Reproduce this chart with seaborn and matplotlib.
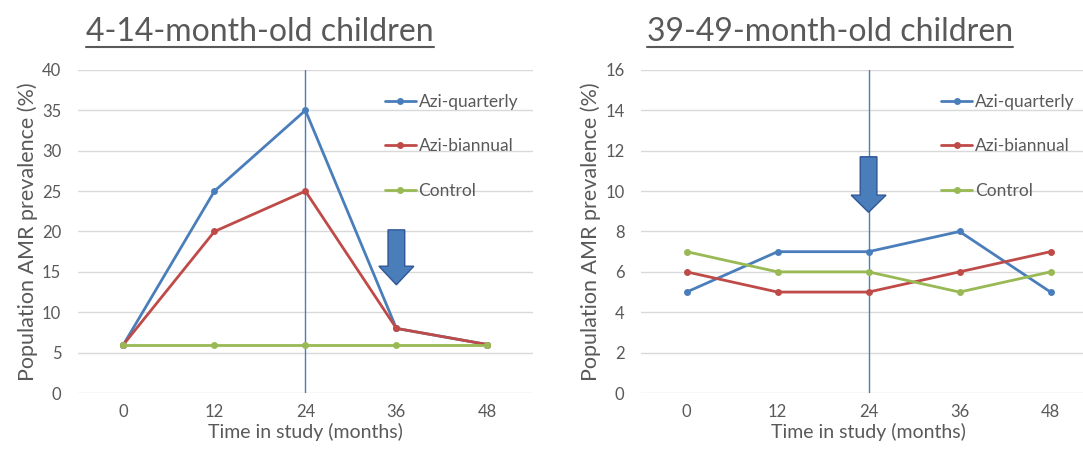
import matplotlib
matplotlib.use("Agg")
import matplotlib.pyplot as plt
import seaborn as sns
import pandas as pd
from matplotlib.patches import FancyArrow
from matplotlib.lines import Line2D

# data
months = [0, 12, 24, 36, 48]
series_names = ["Azi-quarterly", "Azi-biannual", "Control"]

young_quarterly = [6, 25, 35, 8, 6]
young_biannual = [6, 20, 25, 8, 6]
young_control = [6, 6, 6, 6, 6]

old_quarterly = [5, 7, 7, 8, 5]
old_biannual = [6, 5, 5, 6, 7]
old_control = [7, 6, 6, 5, 6]

panel_titles = ["4-14-month-old children", "39-49-month-old children"]
y_max = [40, 16]
y_step = [5, 2]

colors = {"Azi-quarterly": "#4a7ebb", "Azi-biannual": "#be4b48", "Control": "#98b954"}
TEXT = "#595959"


def long_frame(q, b, c):
    rows = []
    for name, vals in zip(series_names, [q, b, c]):
        for m, v in zip(months, vals):
            rows.append({"month": m, "value": v, "series": name})
    return pd.DataFrame(rows)


sns.set_style("white")
plt.rcParams["font.family"] = ["Lato", "DejaVu Sans"]

fig = plt.figure(figsize=(10.83, 4.61), dpi=100)
ax1 = fig.add_axes([0.072, 0.1475, 0.42, 0.7007])
ax2 = fig.add_axes([0.592, 0.1475, 0.42, 0.7007])

frames = [long_frame(young_quarterly, young_biannual, young_control),
          long_frame(old_quarterly, old_biannual, old_control)]
legend_x = [0.64, 0.625]

for i, (ax, df) in enumerate(zip([ax1, ax2], frames)):
    ax.axvline(24, color="#4a7ebb", lw=1, zorder=1)
    sns.lineplot(data=df, x="month", y="value", hue="series", palette=colors,
                 marker="o", markersize=5, markeredgewidth=0, linewidth=2,
                 ax=ax, zorder=3)
    ax.set_xlim(-6, 54)
    ax.set_ylim(0, y_max[i])
    ax.set_xticks(months)
    ax.set_yticks(range(0, y_max[i] + 1, y_step[i]))
    ax.grid(axis="y", color="#d9d9d9", lw=1)
    ax.set_axisbelow(True)
    for s in ax.spines.values():
        s.set_visible(False)
    ax.tick_params(length=0, labelsize=12, labelcolor=TEXT)
    ax.tick_params(axis="y", pad=12)
    ax.tick_params(axis="x", pad=8)
    ax.set_xlabel("Time in study (months)", fontsize=14, color=TEXT, labelpad=2)
    ax.set_ylabel("Population AMR prevalence (%)", fontsize=15.5, color=TEXT, labelpad=3)
    handles, labels = ax.get_legend_handles_labels()
    ax.legend(handles, labels, loc="upper left", bbox_to_anchor=(legend_x[i], 0.975),
              frameon=False, fontsize=12.5, labelcolor=TEXT, labelspacing=1.65,
              handlelength=1.8, handletextpad=0.15)

# arrows marking the end of treatment
ax1.add_patch(FancyArrow(36, 20.2, 0, -6.8, width=2.2, head_width=4.6,
                         head_length=2.3, length_includes_head=True,
                         fc="#4a7ebb", ec="#2f5597", lw=1, zorder=4))
ax2.add_patch(FancyArrow(24, 11.7, 0, -2.75, width=2.2, head_width=4.6,
                         head_length=0.85, length_includes_head=True,
                         fc="#4a7ebb", ec="#2f5597", lw=1, zorder=4))

# underlined panel titles
titles = []
for x, t in zip([260 / 1083, 830 / 1083], panel_titles):
    titles.append(fig.text(x, 1 - 41 / 461, t, ha="center", va="baseline",
                           fontsize=23, color=TEXT))
fig.canvas.draw()
r = fig.canvas.get_renderer()
for t in titles:
    bb = t.get_window_extent(renderer=r).transformed(fig.transFigure.inverted())
    y = 1 - 47 / 461
    fig.add_artist(Line2D([bb.x0, bb.x1], [y, y], transform=fig.transFigure,
                          color=TEXT, lw=1.5))

fig.savefig("out.png", dpi=100)
